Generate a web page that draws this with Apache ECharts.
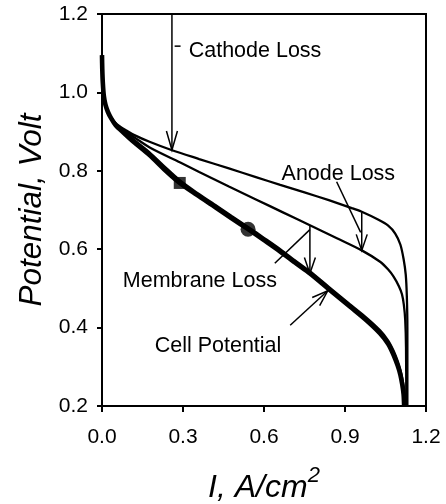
<!DOCTYPE html>
<html>
<head>
<meta charset="utf-8">
<script src="https://cdn.jsdelivr.net/npm/echarts@6/dist/echarts.min.js"></script>
<style>
  html, body { margin: 0; padding: 0; background: #fff; }
  #chart { width: 446px; height: 504px; }
</style>
</head>
<body>
<div id="chart"></div>
<script>
// Polarization curves: current density (A/cm2) vs potential (V)
const upperCurve = [
  [0, 1.095], [0.001, 1.06], [0.003, 1.025], [0.007, 0.99], [0.013, 0.968],
  [0.022, 0.950], [0.033, 0.937], [0.048, 0.924], [0.065, 0.914], [0.09, 0.903],
  [0.12, 0.891], [0.176, 0.874], [0.257, 0.853], [0.36, 0.830], [0.47, 0.806],
  [0.57, 0.784], [0.66, 0.764], [0.75, 0.745], [0.84, 0.725], [0.925, 0.705],
  [0.96, 0.696], [1.024, 0.675], [1.06, 0.660], [1.086, 0.640], [1.105, 0.612],
  [1.117, 0.575], [1.125, 0.535], [1.129, 0.48], [1.131, 0.40], [1.131, 0.2]
];
const secondCurve = [
  [0, 1.095], [0.001, 1.06], [0.003, 1.025], [0.007, 0.99], [0.013, 0.968],
  [0.022, 0.950], [0.033, 0.936], [0.048, 0.922], [0.065, 0.911], [0.09, 0.899],
  [0.12, 0.885], [0.18, 0.858], [0.29, 0.821], [0.36, 0.797], [0.47, 0.760],
  [0.57, 0.727], [0.67, 0.694], [0.77, 0.661], [0.87, 0.628], [0.962, 0.597],
  [1.03, 0.568], [1.06, 0.548], [1.08, 0.530], [1.10, 0.505], [1.111, 0.485],
  [1.118, 0.458], [1.123, 0.42], [1.126, 0.35], [1.127, 0.2]
];
const thirdCurve = [
  [0, 1.095], [0.001, 1.06], [0.003, 1.025], [0.007, 0.99], [0.013, 0.968],
  [0.022, 0.950], [0.033, 0.936], [0.05, 0.920], [0.08, 0.901], [0.12, 0.878],
  [0.176, 0.847], [0.23, 0.812], [0.288, 0.776], [0.35, 0.745], [0.42, 0.713],
  [0.48, 0.685], [0.541, 0.657], [0.6, 0.629], [0.66, 0.600], [0.72, 0.569],
  [0.77, 0.544], [0.84, 0.504], [0.919, 0.459], [0.98, 0.425], [1.03, 0.393],
  [1.06, 0.367], [1.08, 0.341], [1.095, 0.315], [1.105, 0.293], [1.113, 0.267],
  [1.119, 0.240], [1.122, 0.2]
];
const cellPotential = [
  [0, 1.095], [0.001, 1.06], [0.003, 1.025], [0.007, 0.99], [0.013, 0.968],
  [0.022, 0.950], [0.033, 0.935], [0.05, 0.917], [0.08, 0.897], [0.12, 0.872],
  [0.176, 0.840], [0.23, 0.804], [0.288, 0.769], [0.35, 0.739], [0.42, 0.707],
  [0.48, 0.679], [0.541, 0.651], [0.6, 0.623], [0.66, 0.594], [0.72, 0.563],
  [0.77, 0.538], [0.84, 0.498], [0.919, 0.453], [0.98, 0.418], [1.03, 0.385],
  [1.06, 0.358], [1.08, 0.330], [1.095, 0.303], [1.105, 0.280], [1.112, 0.255],
  [1.117, 0.230], [1.119, 0.2]
];
const squarePoint = [[0.288, 0.769]];
const circlePoint = [[0.541, 0.651]];

// Axis ticks
const xTicks = [0.0, 0.3, 0.6, 0.9, 1.2];
const yTicks = [0.2, 0.4, 0.6, 0.8, 1.0, 1.2];

// Loss annotations: [x1, y1, x2, y2, hasHead]
const annotationArrows = [
  [0.259, 1.2, 0.259, 0.853, 1],     // cathode loss
  [0.269, 1.118, 0.291, 1.118, 0],   // cathode label tick
  [0.962, 0.694, 0.962, 0.597, 1],   // anode loss
  [0.869, 0.772, 0.958, 0.643, 0],   // anode leader
  [0.770, 0.661, 0.770, 0.538, 1],   // membrane loss
  [0.640, 0.564, 0.770, 0.650, 0],   // membrane leader
  [0.697, 0.406, 0.836, 0.494, 1]    // cell potential pointer
];
const annotationLabels = ['Cathode Loss', 'Anode Loss', 'Membrane Loss', 'Cell Potential'];
const labelAnchors = [[0.321, 1.106], [0.665, 0.792], [0.077, 0.519], [0.195, 0.353]];

const FONT = '"Liberation Sans", Arial, Helvetica, sans-serif';

function lineSeries(data, width) {
  return {
    type: 'line', data: data, showSymbol: false, smooth: 0.3,
    lineStyle: { color: '#000', width: width }, z: 3, silent: true, animation: false
  };
}

const chart = echarts.init(document.getElementById('chart'), null, { renderer: 'canvas' });

chart.setOption({
  animation: false,
  backgroundColor: '#fff',
  grid: {
    left: 102, right: 20, top: 14, bottom: 98,
    show: true, borderColor: '#000', borderWidth: 2,
    outerBoundsMode: 'none'
  },
  xAxis: {
    type: 'value', min: 0, max: 1.2, interval: 0.3,
    name: '{i|I, A/cm}{sup|2}', nameLocation: 'middle', nameGap: 59,
    nameTextStyle: {
      rich: {
        i: { fontFamily: FONT, fontStyle: 'italic', fontSize: 32, color: '#000' },
        sup: { fontFamily: FONT, fontStyle: 'italic', fontSize: 22, color: '#000', padding: [0, 0, 24, 0] }
      }
    },
    axisLine: { show: true, onZero: false, lineStyle: { color: '#000', width: 2 } },
    axisTick: { show: true, inside: false, length: 6, lineStyle: { color: '#000', width: 2 } },
    splitLine: { show: false },
    axisLabel: {
      margin: 21, color: '#000', fontFamily: FONT, fontSize: 21,
      formatter: function (v) { return xTicks.includes(+v.toFixed(1)) ? v.toFixed(1) : ''; }
    }
  },
  yAxis: {
    type: 'value', min: 0.2, max: 1.2, interval: 0.2,
    name: 'Potential, Volt', nameLocation: 'middle', nameGap: 54, nameRotate: 90,
    nameTextStyle: { fontFamily: FONT, fontStyle: 'italic', fontSize: 31.5, color: '#000' },
    axisLine: { show: true, onZero: false, lineStyle: { color: '#000', width: 2 } },
    axisTick: { show: true, inside: false, length: 5, lineStyle: { color: '#000', width: 2 } },
    splitLine: { show: false },
    axisLabel: {
      margin: 14, color: '#000', fontFamily: FONT, fontSize: 21,
      formatter: function (v) { return yTicks.includes(+v.toFixed(1)) ? v.toFixed(1) : ''; }
    }
  },
  series: [
    lineSeries(upperCurve, 2.3),
    lineSeries(secondCurve, 2.3),
    lineSeries(thirdCurve, 2.3),
    lineSeries(cellPotential, 4.6),
    {
      type: 'scatter', data: squarePoint, symbol: 'rect', symbolSize: 12,
      itemStyle: { color: '#000' }, z: 5, silent: true
    },
    {
      type: 'scatter', data: circlePoint, symbol: 'circle', symbolSize: 15,
      itemStyle: { color: '#000' }, z: 5, silent: true
    },
    {
      type: 'custom', coordinateSystem: 'cartesian2d', data: annotationArrows, z: 6, silent: true,
      encode: { x: [0, 2], y: [1, 3] },
      renderItem: function (params, api) {
        const p1 = api.coord([api.value(0), api.value(1)]);
        const p2 = api.coord([api.value(2), api.value(3)]);
        const children = [{
          type: 'line',
          shape: { x1: p1[0], y1: p1[1], x2: p2[0], y2: p2[1] },
          style: { stroke: '#000', lineWidth: 1.5 }
        }];
        if (api.value(4)) {
          const dx = p2[0] - p1[0], dy = p2[1] - p1[1];
          const len = Math.sqrt(dx * dx + dy * dy);
          const ux = dx / len, uy = dy / len;
          const headLen = params.dataIndex === 0 ? 19 : 16;
          const half = 5.5;
          const bx = p2[0] - ux * headLen, by = p2[1] - uy * headLen;
          children.push({
            type: 'polyline',
            shape: { points: [[bx - uy * half, by + ux * half], [p2[0], p2[1]], [bx + uy * half, by - ux * half]] },
            style: { stroke: '#000', fill: null, lineWidth: 1.5 }
          });
        }
        return { type: 'group', children: children };
      }
    },
    {
      type: 'custom', coordinateSystem: 'cartesian2d', data: labelAnchors, z: 6, silent: true,
      renderItem: function (params, api) {
        const p = api.coord([api.value(0), api.value(1)]);
        return {
          type: 'text', x: p[0], y: p[1],
          style: {
            text: annotationLabels[params.dataIndex], fill: '#000',
            font: '21.5px ' + FONT, align: 'left', verticalAlign: 'middle'
          }
        };
      }
    }
  ]
});
</script>
</body>
</html>
